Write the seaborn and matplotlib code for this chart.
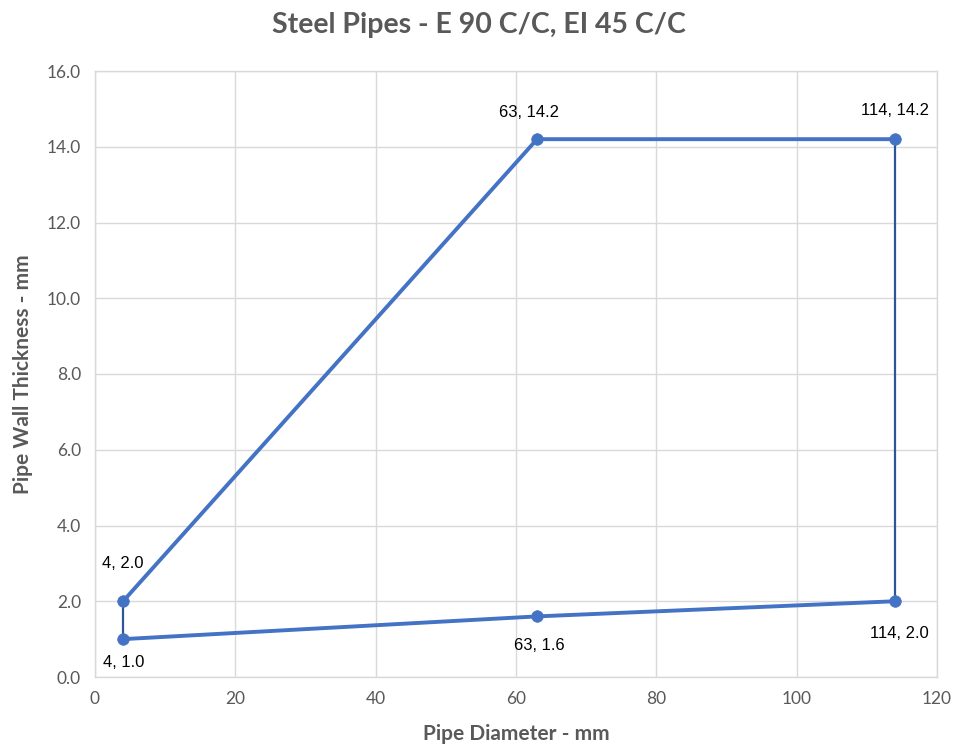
import matplotlib
matplotlib.use("Agg")
import matplotlib.pyplot as plt
import seaborn as sns
import pandas as pd

# Data
diam_main_top = [4, 63, 114]
wall_main_top = [2.0, 14.2, 14.2]
diam_main_bot = [114, 63, 4]
wall_main_bot = [2.0, 1.6, 1.0]
diam_right = [114, 114]
wall_right = [14.2, 2.0]
diam_left = [4, 4]
wall_left = [1.0, 2.0]
pt_x = [4, 63, 114, 114, 63, 4]
pt_y = [2.0, 14.2, 14.2, 2.0, 1.6, 1.0]
x_ticks = [0, 20, 40, 60, 80, 100, 120]
y_ticks = [0, 2, 4, 6, 8, 10, 12, 14, 16]

sns.set_theme(style="white")
plt.rcParams['font.family'] = ['Lato', 'DejaVu Sans']

fig = plt.figure(figsize=(9.58, 7.52), dpi=100)
ax = fig.add_axes([95/958, 1-677/752, (937-95)/958, (677-71)/752])

blue = "#4472C4"
dark = "#2F5597"

sns.lineplot(x=diam_main_top, y=wall_main_top, sort=False, estimator=None, ax=ax, color=blue, linewidth=2.8, zorder=3)
sns.lineplot(x=diam_main_bot, y=wall_main_bot, sort=False, estimator=None, ax=ax, color=blue, linewidth=2.8, zorder=3)
sns.lineplot(x=diam_right, y=wall_right, sort=False, estimator=None, ax=ax, color=dark, linewidth=1.6, zorder=3)
sns.lineplot(x=diam_left, y=wall_left, sort=False, estimator=None, ax=ax, color=dark, linewidth=1.6, zorder=3)
sns.scatterplot(x=pt_x, y=pt_y, ax=ax, color=blue, s=70, edgecolor=blue, linewidth=0.5, zorder=4)

offsets = [(0, 38), (-8, 27), (0, 29), (4, -32), (2, -29), (1, -23)]
for x, y, (dx, dy) in zip(pt_x, pt_y, offsets):
    ax.annotate(f"{x}, {y:.1f}", (x, y), xytext=(dx, dy), textcoords='offset pixels',
                ha='center', va='center', fontsize=12, color='#000000',
                family=['Liberation Sans', 'DejaVu Sans'])

ax.set_xlim(0, 120)
ax.set_ylim(0, 16)
ax.set_xticks(x_ticks)
ax.set_yticks(y_ticks)
ax.set_xticklabels([str(v) for v in x_ticks])
ax.set_yticklabels([f"{v:.1f}" for v in y_ticks])
ax.grid(True, color="#D9D9D9", linewidth=1)
ax.set_axisbelow(True)
for s in ax.spines.values():
    s.set_color("#D9D9D9")
    s.set_linewidth(1)
ax.tick_params(axis='both', length=0, labelsize=12.5, colors='#595959', pad=10)

ax.set_xlabel("Pipe Diameter - mm", fontsize=15, fontweight='bold', color='#595959', labelpad=12)
ax.set_ylabel("Pipe Wall Thickness - mm", fontsize=15, fontweight='bold', color='#595959', labelpad=10)
fig.text(0.5, 1-25/752, "Steel Pipes - E 90 C/C, EI 45 C/C", ha='center', va='center',
         fontsize=20.5, fontweight='bold', color='#595959')

fig.savefig("out.png", dpi=100, facecolor='white')
